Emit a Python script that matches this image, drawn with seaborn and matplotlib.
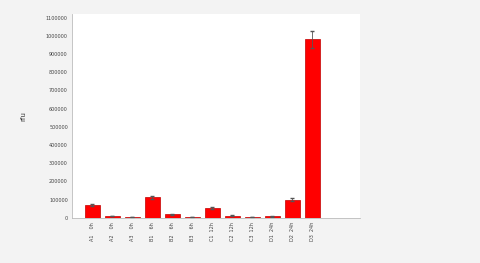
import numpy as np
import pandas as pd
import matplotlib
matplotlib.use("Agg")
import matplotlib.pyplot as plt
import seaborn as sns
from matplotlib.ticker import FuncFormatter

# значения по столбцам (оценка по картинке)
samples = ["A1    0h", "A2    0h", "A3    0h", "B1    6h", "B2    6h", "B3    6h",
           "C1  12h", "C2  12h", "C3  12h", "D1  24h", "D2  24h", "D3  24h"]
values = [72000, 10000, 4000, 112000, 18000, 4000,
          55000, 12000, 4000, 8000, 100000, 980000]
errors = [6000, 2000, 1000, 9000, 3000, 1000,
          5000, 2000, 1000, 2000, 8000, 45000]

df = pd.DataFrame({"sample": samples, "value": values})

sns.set_style("white")
fig = plt.figure(figsize=(4.8, 2.63), dpi=100)
fig.patch.set_facecolor("#f3f3f3")
ax = fig.add_axes([0.15, 0.172, 0.60, 0.775])
ax.set_facecolor("white")

sns.barplot(data=df, x="sample", y="value", color="#ff0000", saturation=1,
            width=0.75, errorbar=None, ax=ax,
            edgecolor="#c00000", linewidth=0.5)
ax.errorbar(np.arange(len(samples)), values, yerr=errors,
            fmt="none", ecolor="#555555", elinewidth=0.6, capsize=1.5)

ax.set_ylim(0, 1120000)
ax.set_yticks(np.arange(0, 1100001, 100000))
ax.yaxis.set_major_formatter(FuncFormatter(lambda v, p: f"{int(v)}"))
ax.set_xlim(-1, 13.4)
ax.tick_params(axis="y", labelsize=3.5, length=2, width=0.5, pad=1,
               labelcolor="#444444")
ax.tick_params(axis="x", labelsize=3.5, length=0, rotation=90, pad=3,
               labelcolor="#444444")
ax.set_xlabel("")
ax.set_ylabel("rfu", fontsize=5, labelpad=14, color="#333333")
for s in ax.spines.values():
    s.set_color("#bbbbbb")
    s.set_linewidth(0.6)
ax.spines["top"].set_visible(False)
ax.spines["right"].set_visible(False)

fig.savefig("out.png", dpi=100, facecolor=fig.get_facecolor())
